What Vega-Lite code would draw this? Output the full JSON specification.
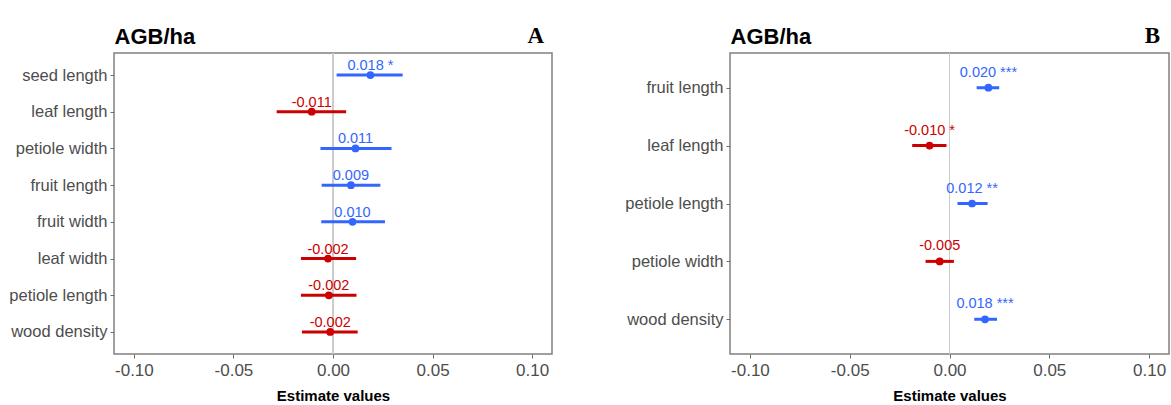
{
  "$schema": "https://vega.github.io/schema/vega-lite/v6.json",
  "padding": {"left": 8, "top": 24, "right": 0, "bottom": 0},
  "spacing": 71,
  "background": "white",
  "config": {
    "view": {"stroke": "#808080", "strokeWidth": 1.5},
    "axis": {
      "grid": false,
      "domain": false,
      "labelColor": "#4d4d4d",
      "tickColor": "#6e6e6e",
      "tickSize": 4
    }
  },
  "datasets": {
    "a": [
      {"term": "seed length", "est": 0.0188, "lo": 0.0018, "hi": 0.035, "label": "0.018 *", "sign": "pos"},
      {"term": "leaf length", "est": -0.0107, "lo": -0.0283, "hi": 0.0066, "label": "-0.011", "sign": "neg"},
      {"term": "petiole width", "est": 0.0113, "lo": -0.0063, "hi": 0.0294, "label": "0.011", "sign": "pos"},
      {"term": "fruit length", "est": 0.009, "lo": -0.0057, "hi": 0.0238, "label": "0.009", "sign": "pos"},
      {"term": "fruit width", "est": 0.0098, "lo": -0.0059, "hi": 0.0261, "label": "0.010", "sign": "pos"},
      {"term": "leaf width", "est": -0.0025, "lo": -0.0161, "hi": 0.0116, "label": "-0.002", "sign": "neg"},
      {"term": "petiole length", "est": -0.0021, "lo": -0.0161, "hi": 0.0118, "label": "-0.002", "sign": "neg"},
      {"term": "wood density", "est": -0.0014, "lo": -0.0156, "hi": 0.0124, "label": "-0.002", "sign": "neg"}
    ],
    "b": [
      {"term": "fruit length", "est": 0.0195, "lo": 0.0136, "hi": 0.0249, "label": "0.020 ***", "sign": "pos"},
      {"term": "leaf length", "est": -0.01, "lo": -0.0187, "hi": -0.0015, "label": "-0.010 *", "sign": "neg"},
      {"term": "petiole length", "est": 0.0113, "lo": 0.004, "hi": 0.0191, "label": "0.012 **", "sign": "pos"},
      {"term": "petiole width", "est": -0.0049, "lo": -0.012, "hi": 0.0022, "label": "-0.005", "sign": "neg"},
      {"term": "wood density", "est": 0.0178, "lo": 0.0124, "hi": 0.0238, "label": "0.018 ***", "sign": "pos"}
    ]
  },
  "hconcat": [
    {
      "width": 438,
      "height": 301,
      "data": {"name": "a"},
      "title": {"text": "A", "anchor": "end", "frame": "group", "font": "Liberation Serif", "fontSize": 23, "fontWeight": "bold", "color": "black", "baseline": "alphabetic", "offset": -41, "dx": -8},
      "encoding": {
        "y": {
          "field": "term", "type": "nominal",
          "sort": ["seed length", "leaf length", "petiole width", "fruit length", "fruit width", "leaf width", "petiole length", "wood density"],
          "scale": {"type": "point", "padding": 0.6},
          "axis": {
            "title": "AGB/ha", "titleAngle": 0, "titleX": 0, "titleY": -10, "titleAlign": "left", "titleBaseline": "alphabetic",
            "titleFont": "Liberation Sans", "titleFontSize": 22, "titleFontWeight": "bold", "titleColor": "black",
            "labelFont": "Liberation Sans", "labelFontSize": 16.5, "labelPadding": 3
          }
        }
      },
      "layer": [
        {
          "mark": {"type": "rule", "color": "#cccccc", "strokeWidth": 1},
          "encoding": {"x": {"datum": 0, "type": "quantitative", "scale": {"domain": [-0.11, 0.11], "nice": false}}, "y": null}
        },
        {
          "mark": {"type": "rule", "strokeWidth": 3},
          "encoding": {
            "x": {"field": "lo", "type": "quantitative", "scale": {"domain": [-0.11, 0.11], "nice": false},
              "axis": {"values": [-0.1, -0.05, 0, 0.05, 0.1], "format": ".2f", "labelExpr": "replace(datum.label, '\u2212', '-')",
                "title": "Estimate values", "titleFont": "Liberation Sans", "titleFontSize": 15, "titleFontWeight": "bold", "titleColor": "black", "titlePadding": 10,
                "labelFont": "Liberation Sans", "labelFontSize": 17, "labelPadding": 4}},
            "x2": {"field": "hi"},
            "color": {"field": "sign", "type": "nominal", "scale": {"domain": ["pos", "neg"], "range": ["#3366ff", "#cc0000"]}, "legend": null}
          }
        },
        {
          "mark": {"type": "point", "filled": true, "opacity": 1, "size": 60},
          "encoding": {
            "x": {"field": "est", "type": "quantitative"},
            "color": {"field": "sign", "type": "nominal", "legend": null}
          }
        },
        {
          "mark": {"type": "text", "baseline": "alphabetic", "align": "center", "dy": -5, "font": "Liberation Sans", "fontSize": 14.5},
          "encoding": {
            "x": {"field": "est", "type": "quantitative"},
            "text": {"field": "label"},
            "color": {"field": "sign", "type": "nominal", "legend": null}
          }
        }
      ]
    },
    {
      "width": 439,
      "height": 301,
      "data": {"name": "b"},
      "title": {"text": "B", "anchor": "end", "frame": "group", "font": "Liberation Serif", "fontSize": 23, "fontWeight": "bold", "color": "black", "baseline": "alphabetic", "offset": -41, "dx": -9},
      "encoding": {
        "y": {
          "field": "term", "type": "nominal",
          "sort": ["fruit length", "leaf length", "petiole length", "petiole width", "wood density"],
          "scale": {"type": "point", "padding": 0.6},
          "axis": {
            "title": "AGB/ha", "titleAngle": 0, "titleX": 0, "titleY": -10, "titleAlign": "left", "titleBaseline": "alphabetic",
            "titleFont": "Liberation Sans", "titleFontSize": 22, "titleFontWeight": "bold", "titleColor": "black",
            "labelFont": "Liberation Sans", "labelFontSize": 16.5, "labelPadding": 3
          }
        }
      },
      "layer": [
        {
          "mark": {"type": "rule", "color": "#cccccc", "strokeWidth": 1},
          "encoding": {"x": {"datum": 0, "type": "quantitative", "scale": {"domain": [-0.11, 0.11], "nice": false}}, "y": null}
        },
        {
          "mark": {"type": "rule", "strokeWidth": 3},
          "encoding": {
            "x": {"field": "lo", "type": "quantitative", "scale": {"domain": [-0.11, 0.11], "nice": false},
              "axis": {"values": [-0.1, -0.05, 0, 0.05, 0.1], "format": ".2f", "labelExpr": "replace(datum.label, '\u2212', '-')",
                "title": "Estimate values", "titleFont": "Liberation Sans", "titleFontSize": 15, "titleFontWeight": "bold", "titleColor": "black", "titlePadding": 10,
                "labelFont": "Liberation Sans", "labelFontSize": 17, "labelPadding": 4}},
            "x2": {"field": "hi"},
            "color": {"field": "sign", "type": "nominal", "scale": {"domain": ["pos", "neg"], "range": ["#3366ff", "#cc0000"]}, "legend": null}
          }
        },
        {
          "mark": {"type": "point", "filled": true, "opacity": 1, "size": 60},
          "encoding": {
            "x": {"field": "est", "type": "quantitative"},
            "color": {"field": "sign", "type": "nominal", "legend": null}
          }
        },
        {
          "mark": {"type": "text", "baseline": "alphabetic", "align": "center", "dy": -11, "font": "Liberation Sans", "fontSize": 14.5},
          "encoding": {
            "x": {"field": "est", "type": "quantitative"},
            "text": {"field": "label"},
            "color": {"field": "sign", "type": "nominal", "legend": null}
          }
        }
      ]
    }
  ]
}
